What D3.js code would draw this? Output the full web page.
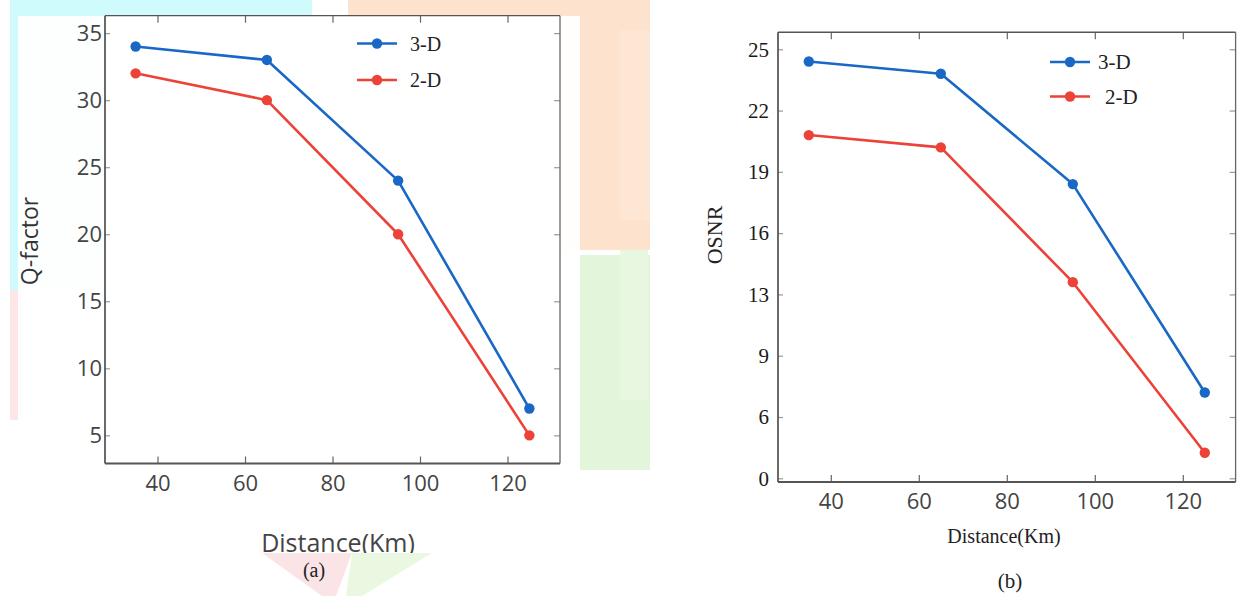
<!DOCTYPE html>
<html>
<head>
<meta charset="utf-8">
<script src="https://cdn.jsdelivr.net/npm/d3@7"></script>
<style>
  html, body { margin: 0; padding: 0; background: #ffffff; }
  svg { display: block; }
</style>
</head>
<body>
<svg id="chart" width="1239" height="596"></svg>
<script>
// ---------------- data ----------------
const distances = [35, 65, 95, 125];
const qfactor3D = [34, 33, 24, 7];
const qfactor2D = [32, 30, 20, 5];
const osnr3D = [24.4, 23.8, 18.4, 7.2];
const osnr2D = [20.8, 20.2, 13.6, 2.5];
const xTicks = [40, 60, 80, 100, 120];
const qTicks = [5, 10, 15, 20, 25, 30, 35];
const osnrTicks = [0, 6, 9, 13, 16, 19, 22, 25];
const seriesNames = ["3-D", "2-D"];

const BLUE = "#1a68c6";
const RED = "#ec4238";

const svg = d3.select("#chart");

// ---------------- faint background watermark ----------------
const bg = svg.append("g");
bg.append("rect").attr("x", 10).attr("y", 0).attr("width", 302).attr("height", 290).attr("fill", "#cffbfd");
bg.append("rect").attr("x", 348).attr("y", 0).attr("width", 302).attr("height", 250).attr("fill", "#fde3cd");
bg.append("rect").attr("x", 10).attr("y", 290).attr("width", 14).attr("height", 130).attr("fill", "#fde6e6");
bg.append("rect").attr("x", 580).attr("y", 255).attr("width", 70).attr("height", 215).attr("fill", "#e3f6db");
// white sheets of the two figures
bg.append("rect").attr("x", 18).attr("y", 16).attr("width", 562).attr("height", 536).attr("fill", "#ffffff").attr("opacity", 0.95);
bg.append("rect").attr("x", 650).attr("y", 0).attr("width", 589).attr("height", 596).attr("fill", "#ffffff");
bg.append("rect").attr("x", 620).attr("y", 30).attr("width", 30).attr("height", 190).attr("fill", "#fde6d4");
bg.append("rect").attr("x", 620).attr("y", 250).attr("width", 28).attr("height", 150).attr("fill", "#e8f7e0");

// ---------------- helpers ----------------
function drawPanel(cfg) {
  const g = svg.append("g");
  const x = d3.scaleLinear().domain([28, 132]).range([cfg.left, cfg.right]);
  const y = cfg.y;

  // frame
  g.append("rect")
    .attr("x", cfg.left).attr("y", cfg.top)
    .attr("width", cfg.right - cfg.left).attr("height", cfg.bottom - cfg.top)
    .attr("fill", "#ffffff").attr("stroke", "none");

  // axes with inward ticks
  const axB = g.append("g").attr("transform", `translate(0,${cfg.bottom})`)
    .call(d3.axisBottom(x).tickValues(xTicks).tickSizeInner(-7).tickSizeOuter(0).tickPadding(cfg.xPad));
  const axT = g.append("g").attr("transform", `translate(0,${cfg.top})`)
    .call(d3.axisTop(x).tickValues(xTicks).tickSizeInner(-7).tickSizeOuter(0).tickFormat(""));
  const axL = g.append("g").attr("transform", `translate(${cfg.left},0)`)
    .call(d3.axisLeft(y).tickValues(cfg.yTicks).tickSizeInner(-5).tickSizeOuter(0).tickPadding(cfg.yPad));
  const axR = g.append("g").attr("transform", `translate(${cfg.right},0)`)
    .call(d3.axisRight(y).tickValues(cfg.yTicks).tickSizeInner(-6).tickSizeOuter(0).tickFormat(""));

  [axB, axT, axL, axR].forEach(a => {
    a.select(".domain").remove();
    a.selectAll(".tick line").attr("stroke", "#666").attr("stroke-width", 1.2);
  });
  axL.selectAll(".tick line").attr("stroke", "#999");
  axR.selectAll(".tick line").attr("stroke", "#999");

  axB.selectAll(".tick text")
    .attr("font-family", "'Open Sans', sans-serif").attr("font-size", 22).attr("fill", "#444");
  axL.selectAll(".tick text")
    .attr("font-family", cfg.yFont).attr("font-size", cfg.yFontSize).attr("fill", cfg.yColor);

  // frame lines
  g.append("line").attr("x1", cfg.left).attr("x2", cfg.right).attr("y1", cfg.top).attr("y2", cfg.top)
    .attr("stroke", "#555").attr("stroke-width", 1.3);
  g.append("line").attr("x1", cfg.right).attr("x2", cfg.right).attr("y1", cfg.top).attr("y2", cfg.bottom)
    .attr("stroke", "#666").attr("stroke-width", 1.3);
  g.append("line").attr("x1", cfg.left).attr("x2", cfg.left).attr("y1", cfg.top).attr("y2", cfg.bottom)
    .attr("stroke", "#444").attr("stroke-width", 1.6);
  g.append("line").attr("x1", cfg.left).attr("x2", cfg.right).attr("y1", cfg.bottom).attr("y2", cfg.bottom)
    .attr("stroke", "#555").attr("stroke-width", 1.8);

  // series
  const line = d3.line().x(d => x(d[0])).y(d => y(d[1]));
  const series = [
    { name: seriesNames[0], vals: cfg.s3, color: BLUE },
    { name: seriesNames[1], vals: cfg.s2, color: RED }
  ];
  series.slice().reverse().forEach(s => {
    const pts = distances.map((d, i) => [d, s.vals[i]]);
    g.append("path").attr("d", line(pts)).attr("fill", "none")
      .attr("stroke", s.color).attr("stroke-width", 2.6).attr("stroke-linejoin", "round");
    g.selectAll(null).data(pts).enter().append("circle")
      .attr("cx", d => x(d[0])).attr("cy", d => y(d[1])).attr("r", 5.2).attr("fill", s.color);
  });

  // legend
  series.forEach((s, i) => {
    const ly = cfg.legY[i];
    g.append("line").attr("x1", cfg.legX).attr("x2", cfg.legX + 40).attr("y1", ly).attr("y2", ly)
      .attr("stroke", s.color).attr("stroke-width", 2.6);
    g.append("circle").attr("cx", cfg.legX + 20).attr("cy", ly).attr("r", 5.2).attr("fill", s.color);
    g.append("text").attr("x", cfg.legX + cfg.legTextDx[i]).attr("y", ly).attr("dy", "0.35em")
      .attr("font-family", "'Liberation Serif', 'Times New Roman', serif")
      .attr("font-size", cfg.legFontSize).attr("fill", "#222").text(s.name);
  });

  return { g, x, y };
}

// ---------------- panel (a) ----------------
const yA = d3.scaleLinear().domain([2.9, 36.3]).range([463.5, 15.7]);
const pa = drawPanel({
  left: 105, right: 560, top: 15.7, bottom: 463.5,
  y: yA, yTicks: qTicks, xPad: 12, yPad: 3,
  yFont: "'Open Sans', sans-serif", yFontSize: 22, yColor: "#444",
  s3: qfactor3D, s2: qfactor2D,
  legX: 357, legY: [43.5, 80], legTextDx: [53, 53], legFontSize: 20
});
pa.g.append("text")
  .attr("transform", "translate(38,241) rotate(-90)")
  .attr("text-anchor", "middle")
  .attr("font-family", "'Open Sans', sans-serif").attr("font-size", 23).attr("fill", "#333")
  .text("Q-factor");
pa.g.append("text")
  .attr("x", 338).attr("y", 552).attr("text-anchor", "middle")
  .attr("font-family", "'Open Sans', sans-serif").attr("font-size", 25).attr("fill", "#444")
  .text("Distance(Km)");

// watermark triangles below (a)'s x label
bg.raise();
const tri = svg.append("g");
tri.append("rect").attr("x", 230).attr("y", 553).attr("width", 200).attr("height", 43).attr("fill", "#ffffff");
tri.append("polygon").attr("points", "262,553 352,553 336,596 322,596").attr("fill", "#fbe4e6");
tri.append("polygon").attr("points", "352,553 432,553 362,596 346,596").attr("fill", "#eaf8e2");
bg.lower();

svg.append("text").attr("x", 314).attr("y", 577).attr("text-anchor", "middle")
  .attr("font-family", "'Liberation Serif', 'Times New Roman', serif").attr("font-size", 20).attr("fill", "#222")
  .text("(a)");

// ---------------- panel (b) ----------------
const stepB = 61.29;
const yB = d3.scaleLinear()
  .domain(osnrTicks)
  .range(osnrTicks.map((d, i) => 478.3 - i * stepB));
const pb = drawPanel({
  left: 778, right: 1235.6, top: yB(25) - 17, bottom: yB(0) + 3.7,
  y: yB, yTicks: osnrTicks, xPad: 11, yPad: 9,
  yFont: "'Liberation Serif', 'Times New Roman', serif", yFontSize: 21, yColor: "#1a1a1a",
  s3: osnr3D, s2: osnr2D,
  legX: 1050, legY: [62, 96.5], legTextDx: [48, 55], legFontSize: 21
});
pb.g.append("text")
  .attr("transform", "translate(722,235) rotate(-90)")
  .attr("text-anchor", "middle")
  .attr("font-family", "'Liberation Serif', 'Times New Roman', serif").attr("font-size", 22).attr("fill", "#222")
  .text("OSNR");
pb.g.append("text")
  .attr("x", 1004).attr("y", 543).attr("text-anchor", "middle")
  .attr("font-family", "'Liberation Serif', 'Times New Roman', serif").attr("font-size", 20).attr("fill", "#222")
  .text("Distance(Km)");
svg.append("text").attr("x", 1010).attr("y", 588).attr("text-anchor", "middle")
  .attr("font-family", "'Liberation Serif', 'Times New Roman', serif").attr("font-size", 21).attr("fill", "#222")
  .text("(b)");
</script>
</body>
</html>
